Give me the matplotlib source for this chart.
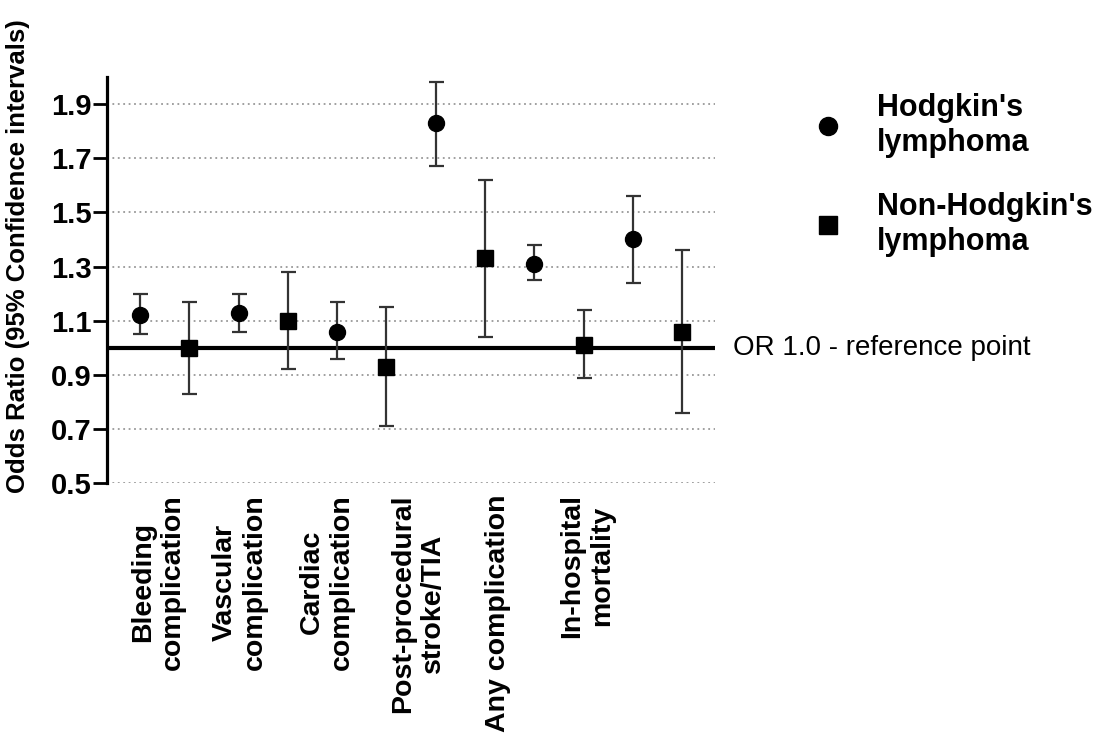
import numpy as np
import matplotlib.pyplot as plt
from matplotlib.lines import Line2D

plt.rcParams['font.family'] = ['Liberation Sans', 'DejaVu Sans']

# Odds ratios (95% CI) par complication
categories = ['Bleeding\ncomplication', 'Vascular\ncomplication', 'Cardiac\ncomplication',
              'Post-procedural\nstroke/TIA', 'Any complication', 'In-hospital\nmortality']

hl_or = [1.12, 1.13, 1.06, 1.83, 1.31, 1.40]
hl_lo = [1.05, 1.06, 0.96, 1.67, 1.25, 1.24]
hl_hi = [1.20, 1.20, 1.17, 1.98, 1.38, 1.56]

nhl_or = [1.00, 1.10, 0.93, 1.33, 1.01, 1.06]
nhl_lo = [0.83, 0.92, 0.71, 1.04, 0.89, 0.76]
nhl_hi = [1.17, 1.28, 1.15, 1.62, 1.14, 1.36]

yticks = [0.5, 0.7, 0.9, 1.1, 1.3, 1.5, 1.7, 1.9]

# Positions (mise en page)
x_hl = np.arange(len(categories)) * 2
x_nhl = x_hl + 1
label_pos = [0.37, 2.03, 3.80, 5.64, 7.27, 9.07]

fig = plt.figure(figsize=(11.16, 7.4), dpi=100)
ax = fig.add_axes([0.0959, 0.347, 0.545, 0.549])

ax.grid(axis='y', linestyle=(0, (1, 2)), color='#999999', linewidth=1.3)
ax.set_axisbelow(True)
ax.axhline(1.0, color='black', linewidth=3, zorder=2)

err_hl = [np.array(hl_or) - np.array(hl_lo), np.array(hl_hi) - np.array(hl_or)]
err_nhl = [np.array(nhl_or) - np.array(nhl_lo), np.array(nhl_hi) - np.array(nhl_or)]

ax.errorbar(x_hl, hl_or, yerr=err_hl, fmt='o', color='black', ecolor='#333333',
            markersize=11.5, elinewidth=1.6, capsize=5.4, capthick=1.6, zorder=3)
ax.errorbar(x_nhl, nhl_or, yerr=err_nhl, fmt='s', color='black', ecolor='#333333',
            markersize=11, elinewidth=1.6, capsize=5.4, capthick=1.6, zorder=3)

ax.set_xlim(-0.67, 11.67)
ax.set_ylim(0.5, 2.0)
ax.set_yticks(yticks)
ax.set_yticklabels(['%.1f' % v for v in yticks], fontsize=21, fontweight='bold')
ax.tick_params(axis='y', length=10, width=2, pad=1)

ax.set_xticks(label_pos)
ax.set_xticklabels(categories, rotation=90, fontsize=20.5, fontweight='bold',
                   multialignment='center')
ax.tick_params(axis='x', length=0, pad=8)

for s in ['top', 'right', 'bottom']:
    ax.spines[s].set_visible(False)
ax.spines['left'].set_linewidth(2.3)

ax.set_ylabel('Odds Ratio (95% Confidence intervals)', fontsize=18.5, fontweight='bold')
ax.yaxis.set_label_coords(-0.127, 0.56)

ax.text(1.03, 1.0, 'OR 1.0 - reference point', transform=ax.get_yaxis_transform(),
        fontsize=20, va='center', ha='left')

handles = [Line2D([], [], marker='o', linestyle='none', color='black', markersize=13),
           Line2D([], [], marker='s', linestyle='none', color='black', markersize=12.5)]
leg = ax.legend(handles, ["Hodgkin's\nlymphoma", "Non-Hodgkin's\nlymphoma"],
                loc='upper left', bbox_to_anchor=(0.7285, 0.874), bbox_transform=fig.transFigure,
                frameon=False, handlelength=1.0, handletextpad=1.1, borderpad=0,
                borderaxespad=0, labelspacing=1.13, prop={'size': 22, 'weight': 'bold'})

fig.savefig('out.png', dpi=100)
